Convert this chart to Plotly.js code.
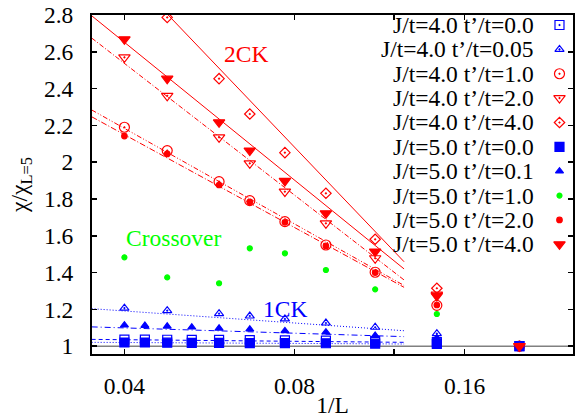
<!DOCTYPE html>
<html>
<head>
<meta charset="utf-8">
<script src="https://cdn.plot.ly/plotly-3.0.1.min.js"></script>
<style>html,body{margin:0;padding:0;background:#fff;}#chart{width:576px;height:418px;}</style>
</head>
<body>
<div id="chart"></div>
<script>
// ---------------- data ----------------
const L_all  = [25, 23, 21, 19, 17, 15, 13, 11, 9, 7, 5];
const L_main = [25, 21, 17, 15, 13, 11, 9, 7, 5];
const L_dia  = [21, 17, 15, 13, 11, 9, 7, 5];

const labels = [
  'J/t=4.0 t\u2019/t=0.0', 'J/t=4.0 t\u2019/t=0.05', 'J/t=4.0 t\u2019/t=1.0',
  'J/t=4.0 t\u2019/t=2.0', 'J/t=4.0 t\u2019/t=4.0', 'J/t=5.0 t\u2019/t=0.0',
  'J/t=5.0 t\u2019/t=0.1', 'J/t=5.0 t\u2019/t=1.0', 'J/t=5.0 t\u2019/t=2.0',
  'J/t=5.0 t\u2019/t=4.0'
];

const y_J4_t00  = [1.036, 1.036, 1.035, 1.034, 1.034, 1.033, 1.032, 1.030, 1.028, 1.022, 1.0];
const y_J4_t005 = [1.207, 1.193, 1.177, 1.164, 1.148, 1.126, 1.103, 1.068, 1.0];
const y_J4_t10  = [2.190, 2.063, 1.894, 1.791, 1.677, 1.550, 1.402, 1.222, 1.0];
const y_J4_t20  = [2.570, 2.361, 2.135, 1.994, 1.840, 1.668, 1.478, 1.280, 1.0];
const y_J4_t40  = [2.787, 2.454, 2.262, 2.052, 1.831, 1.581, 1.315, 1.0];
const y_J5_t00  = [1.020, 1.020, 1.019, 1.018, 1.018, 1.017, 1.017, 1.016, 1.014, 1.012, 1.0];
const y_J5_t01  = [1.114, 1.112, 1.108, 1.103, 1.097, 1.092, 1.083, 1.076, 1.058, 1.045, 1.0];
const y_J5_t10  = [1.483, 1.374, 1.342, 1.532, 1.505, 1.414, 1.309, 1.175, 1.0];
const y_J5_t20  = [2.142, 2.045, 1.876, 1.784, 1.673, 1.545, 1.400, 1.224, 1.0];
const y_J5_t40  = [2.668, 2.454, 2.217, 2.063, 1.898, 1.722, 1.514, 1.273, 1.0];

// fit lines (end points), x = 1/L
const fitX      = [0.035, 0.125];
const fitX_dia  = [0.0478, 0.125];
const fit_J4_t00  = [1.037, 1.021];
const fit_J4_t005 = [1.204, 1.084];
const fit_J4_t10  = [2.284, 1.330];
const fit_J4_t20  = [2.675, 1.360];
const fit_J4_t40  = [2.800, 1.459];
const fit_J5_t00  = [1.021, 1.012];
const fit_J5_t01  = [1.105, 1.052];
const fit_J5_t20  = [2.247, 1.320];
const fit_J5_t40  = [2.796, 1.420];

const xTicks = [0.04, 0.08, 0.16];
const xTickText = ['0.04', '0.08', '0.16'];
const xMinorTicks = [0.12];

// ---------------- styles ----------------
const RED = '#ff0000', BLUE = '#0000ff', GREEN = '#00ff00';
const FONT = 'Liberation Serif, Times New Roman, serif';
const FS = 23.5;

const inv = a => a.map(v => 1 / v);

const series = [
  {L: L_all,  y: y_J4_t00,  sym: 'square-open-dot',        color: BLUE,  size: 9},
  {L: L_main, y: y_J4_t005, sym: 'triangle-up-open-dot',   color: BLUE,  size: 8},
  {L: L_main, y: y_J4_t10,  sym: 'circle-open-dot',        color: RED,   size: 10},
  {L: L_main, y: y_J4_t20,  sym: 'triangle-down-open-dot', color: RED,   size: 10},
  {L: L_dia,  y: y_J4_t40,  sym: 'diamond-open-dot',       color: RED,   size: 8},
  {L: L_all,  y: y_J5_t00,  sym: 'square',                 color: BLUE,  size: 9},
  {L: L_all,  y: y_J5_t01,  sym: 'triangle-up',            color: BLUE,  size: 7},
  {L: L_main, y: y_J5_t10,  sym: 'circle',                 color: GREEN, size: 5},
  {L: L_main, y: y_J5_t20,  sym: 'circle',                 color: RED,   size: 5.5},
  {L: L_main, y: y_J5_t40,  sym: 'triangle-down',          color: RED,   size: 10}
];

const fits = [
  {x: fitX,     y: fit_J4_t00,  color: BLUE, dash: '4px,3px'},
  {x: fitX,     y: fit_J5_t00,  color: BLUE, dash: '1px,2px'},
  {x: fitX,     y: fit_J5_t01,  color: BLUE, dash: '6px,3px,1px,3px'},
  {x: fitX,     y: fit_J4_t005, color: BLUE, dash: '1px,2px'},
  {x: fitX,     y: fit_J4_t10,  color: RED,  dash: '5px,2px,1px,2px,1px,2px'},
  {x: fitX,     y: fit_J5_t20,  color: RED,  dash: '6px,2px,1px,2px'},
  {x: fitX,     y: fit_J4_t20,  color: RED,  dash: '5px,2px,1px,2px'},
  {x: fitX,     y: fit_J5_t40,  color: RED,  dash: 'solid'},
  {x: fitX_dia, y: fit_J4_t40,  color: RED,  dash: 'solid'}
];

const traces = [];
fits.forEach(f => traces.push({
  type: 'scatter', mode: 'lines', x: f.x, y: f.y, showlegend: false, hoverinfo: 'skip',
  line: {color: f.color, width: 1, dash: f.dash}
}));
series.forEach(s => traces.push({
  type: 'scatter', mode: 'markers', x: inv(s.L), y: s.y, showlegend: false,
  marker: {symbol: s.sym, color: s.color, size: s.size, line: {color: s.color, width: 1.2}}
}));

// custom legend: text right-aligned, symbol to the right
const legTop = 25, legStep = 24.37, plotTop = 15, plotBot = 354, plotL = 92.3, plotR = 573;
const pxToPaperY = py => (plotBot - py) / (plotBot - plotTop);
const pxToPaperX = px => (px - plotL) / (plotR - plotL);
const annotations = [];
series.forEach((s, i) => {
  const yp = pxToPaperY(legTop + i * legStep);
  traces.push({
    type: 'scatter', mode: 'markers', xaxis: 'x2', yaxis: 'y2', showlegend: false,
    x: [pxToPaperX(559.5)], y: [yp], cliponaxis: false, hoverinfo: 'skip',
    marker: {symbol: s.sym, color: s.color, size: s.size, line: {color: s.color, width: 1.2}}
  });
  annotations.push({
    xref: 'paper', yref: 'paper', x: pxToPaperX(536), y: yp, xanchor: 'right', yanchor: 'middle',
    text: labels[i], showarrow: false, font: {family: FONT, size: FS, color: '#000'}
  });
});

annotations.push(
  {xref: 'x', yref: 'y', x: Math.log10(0.0656), y: 2.588, text: '2CK', showarrow: false,
   font: {family: FONT, size: FS, color: RED}},
  {xref: 'x', yref: 'y', x: Math.log10(0.0488), y: 1.588, text: 'Crossover', showarrow: false,
   font: {family: FONT, size: FS, color: GREEN}},
  {xref: 'x', yref: 'y', x: Math.log10(0.077), y: 1.204, text: '1CK', showarrow: false,
   font: {family: FONT, size: FS, color: BLUE}}
);

const layout = {
  width: 576, height: 418,
  margin: {l: 92, r: 3, t: 15, b: 64, pad: 0},
  paper_bgcolor: '#fff', plot_bgcolor: '#fff',
  font: {family: FONT, size: FS, color: '#000'},
  showlegend: false,
  xaxis: {
    type: 'log', range: [Math.log10(0.03505), Math.log10(0.2488)],
    tickmode: 'array', tickvals: xTicks, ticktext: xTickText,
    ticks: 'inside', ticklen: 5, tickwidth: 1.5, tickcolor: '#000',
    minor: {tickmode: 'array', tickvals: xMinorTicks, ticks: 'inside', ticklen: 5, tickwidth: 1.5, tickcolor: '#000', showgrid: false},
    showline: true, linecolor: '#000', linewidth: 2, mirror: 'ticks',
    showgrid: false, zeroline: false, ticklabelstandoff: 10,
    title: {text: '1/L', font: {family: FONT, size: FS}, standoff: 8}
  },
  yaxis: {
    range: [0.9576, 2.8], tick0: 1, dtick: 0.2,
    ticks: 'inside', ticklen: 5, tickwidth: 1.5, tickcolor: '#000',
    showline: true, linecolor: '#000', linewidth: 2, mirror: 'ticks',
    showgrid: false, zeroline: false, ticklabelstandoff: 12,
    title: {text: '\u03c7/\u03c7<sub>L=5</sub>', font: {family: FONT, size: FS}, standoff: 10}
  },
  xaxis2: {overlaying: 'x', anchor: 'y2', range: [0, 1], visible: false, fixedrange: true},
  yaxis2: {overlaying: 'y', anchor: 'x2', range: [0, 1], visible: false, fixedrange: true},
  shapes: [{type: 'line', xref: 'paper', yref: 'y', x0: 0, x1: 1, y0: 1, y1: 1,
            line: {color: '#808080', width: 1.6}, layer: 'below'}],
  annotations: annotations
};

Plotly.newPlot('chart', traces, layout, {staticPlot: true, displayModeBar: false});
</script>
</body>
</html>
